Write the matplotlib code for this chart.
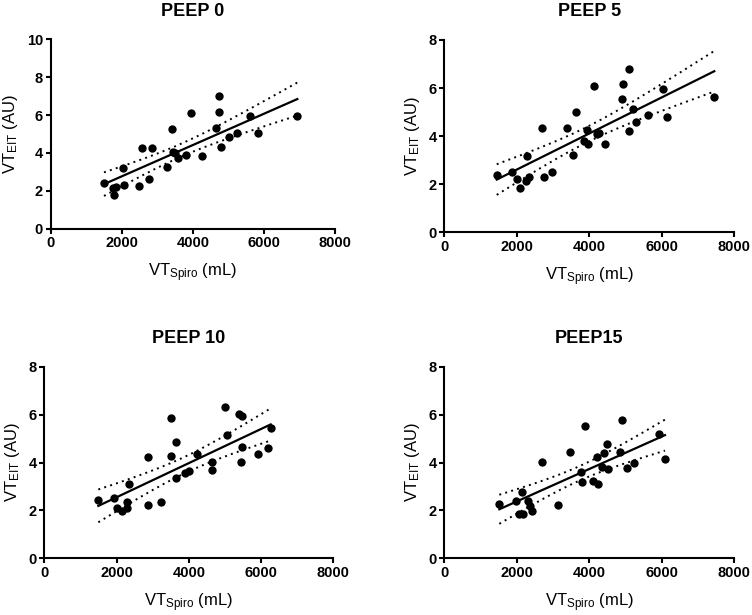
import numpy as np
import matplotlib
matplotlib.use("Agg")
import matplotlib.pyplot as plt

plt.rcParams['font.family'] = ['Liberation Sans', 'DejaVu Sans']
plt.rcParams['mathtext.fontset'] = 'custom'
plt.rcParams['mathtext.rm'] = 'Liberation Sans'
plt.rcParams['mathtext.it'] = 'Liberation Sans:italic'
plt.rcParams['mathtext.bf'] = 'Liberation Sans:bold'

# ---- data ----
titles = ["PEEP 0", "PEEP 5", "PEEP 10", "PEEP15"]
ymaxes = [10, 8, 8, 8]

peep0_x = [1500, 1760, 1840, 1780, 2060, 2045, 2485, 2776, 2560, 2840, 3280, 3410,
           3450, 3500, 3575, 3800, 3950, 4250, 4650, 4740, 4740, 4785, 5010, 5245,
           5610, 5835, 6940]
peep0_y = [2.43, 2.16, 2.22, 1.78, 2.31, 3.22, 2.27, 2.61, 4.28, 4.28, 3.27, 5.25,
           4.05, 3.98, 3.75, 3.89, 6.13, 3.84, 5.30, 7.01, 6.18, 4.30, 4.83, 5.04,
           5.97, 5.04, 5.95]

peep5_x = [1445, 1858, 1996, 2087, 2253, 2344, 2272, 2758, 2979, 2703, 3376, 3541,
           3632, 3861, 3944, 3972, 4137, 4220, 4260, 4432, 4901, 4920, 5094, 5086,
           5213, 5279, 5627, 6024, 6134, 7447]
peep5_y = [2.39, 2.52, 2.21, 1.83, 2.14, 2.29, 3.18, 2.29, 2.52, 4.35, 4.35, 3.22,
           5.02, 3.81, 4.26, 3.66, 6.10, 4.09, 4.12, 3.66, 5.55, 6.16, 6.81, 4.23,
           5.12, 4.58, 4.88, 5.96, 4.79, 5.64]

peep10_x = [1494, 1937, 2020, 2158, 2280, 2297, 2344, 2878, 3221, 2878, 3506, 3498,
            3645, 3637, 3894, 4013, 4218, 4633, 4650, 5001, 5048, 5397, 5480, 5464,
            5444, 5923, 6183, 6266]
peep10_y = [2.42, 2.50, 2.09, 1.98, 2.09, 2.34, 3.10, 2.23, 2.36, 4.23, 5.87, 4.27,
            4.84, 3.34, 3.57, 3.65, 4.37, 4.01, 3.70, 6.33, 5.15, 6.02, 5.95, 4.66,
            4.01, 4.34, 4.62, 5.43]

peep15_x = [1516, 1977, 2134, 2068, 2178, 2300, 2363, 2427, 2686, 3144, 3467, 3880,
            3770, 3790, 4110, 4247, 4203, 4405, 4496, 4341, 4523, 4846, 4901, 5031,
            5241, 5930, 6087]
peep15_y = [2.27, 2.41, 2.76, 1.84, 1.84, 2.41, 2.18, 1.99, 4.01, 2.24, 4.45, 5.54,
            3.62, 3.20, 3.24, 3.09, 4.24, 4.41, 4.76, 3.82, 3.72, 4.45, 5.77, 3.78,
            3.99, 5.19, 4.13]

xs = [peep0_x, peep5_x, peep10_x, peep15_x]
ys = [peep0_y, peep5_y, peep10_y, peep15_y]

# axes rectangles in figure fractions [left, bottom, width, height]
rects = [
    [0.0674, 0.6282, 0.4455 - 0.0674, 0.936 - 0.6282],
    [0.5909, 0.6222, 0.9765 - 0.5909, 0.935 - 0.6222],
    [0.0590, 0.0921, 0.4433 - 0.0590, 0.4038 - 0.0921],
    [0.5909, 0.0921, 0.9765 - 0.5909, 0.4038 - 0.0921],
]

T_CRIT = 2.06

fig = plt.figure(figsize=(7.52, 6.15), dpi=100)

for i in range(4):
    ax = fig.add_axes(rects[i])
    x = np.array(xs[i], dtype=float)
    y = np.array(ys[i], dtype=float)
    n = len(x)
    slope, icpt = np.polyfit(x, y, 1)
    xx = np.linspace(x.min(), x.max(), 200)
    yy = slope * xx + icpt
    resid = y - (slope * x + icpt)
    s = np.sqrt(np.sum(resid ** 2) / (n - 2))
    se = s * np.sqrt(1.0 / n + (xx - x.mean()) ** 2 / np.sum((x - x.mean()) ** 2))
    ax.scatter(x, y, s=36, color='black', zorder=3, linewidths=0)
    ax.plot(xx, yy, color='black', lw=1.6, zorder=4)
    ax.plot(xx, yy + T_CRIT * se, color='black', lw=1.4, ls=(0, (1, 2.2)))
    ax.plot(xx, yy - T_CRIT * se, color='black', lw=1.4, ls=(0, (1, 2.2)))

    ax.set_xlim(0, 8000)
    ax.set_ylim(0, ymaxes[i])
    ax.set_xticks([0, 2000, 4000, 6000, 8000])
    ax.set_yticks(np.arange(0, ymaxes[i] + 1, 2))
    for sp in ['top', 'right']:
        ax.spines[sp].set_visible(False)
    for sp in ['left', 'bottom']:
        ax.spines[sp].set_linewidth(1.5)
    ax.tick_params(direction='out', length=3.5, width=1.5, labelsize=10.5, pad=2)
    for lab in ax.get_xticklabels() + ax.get_yticklabels():
        lab.set_fontweight('bold')
    ax.set_xlabel(r'VT$_{\mathrm{Spiro}}$ (mL)', fontsize=12, labelpad=8)
    ax.set_ylabel(r'VT$_{\mathrm{EIT}}$ (AU)', fontsize=12, labelpad=5)
    ax.set_title(titles[i], fontsize=13, fontweight='bold', pad=17)

fig.savefig('out.png', dpi=100)
